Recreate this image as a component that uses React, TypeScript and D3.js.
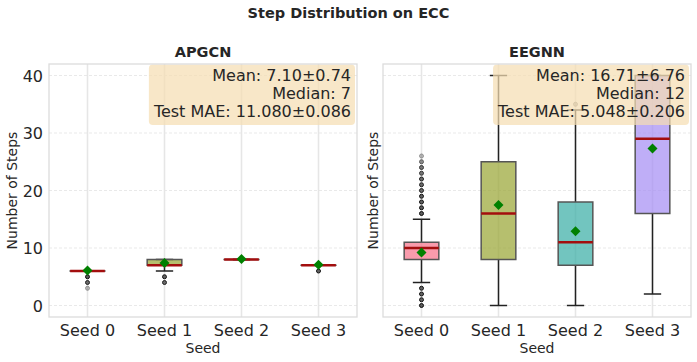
import React, { useEffect, useRef } from 'react';
import * as d3 from 'd3';

// categories
const seeds = ['Seed 0', 'Seed 1', 'Seed 2', 'Seed 3'];
const models = ['APGCN', 'EEGNN'];
const yTicks = [0, 10, 20, 30, 40];

// APGCN box stats per seed
const apgcnQ1 = [6, 7, 8, 7];
const apgcnMedian = [6, 7, 8, 7];
const apgcnQ3 = [6, 8, 8, 7];
const apgcnLow = [6, 6, 8, 7];
const apgcnHigh = [6, 8, 8, 7];
const apgcnMean = [6.1, 7.4, 8.07, 7.08];
// outliers as [value, count]
const apgcnOutliers = [
  [[5, 6], [4, 4], [3, 1]],
  [[5, 5], [4, 4]],
  [],
  [[6, 5]],
];
const apgcnNote = ['Mean: 7.10±0.74', 'Median: 7', 'Test MAE: 11.080±0.086'];

// EEGNN box stats per seed
const eegnnQ1 = [8, 8, 7, 16];
const eegnnMedian = [10, 16, 11, 29];
const eegnnQ3 = [11, 25, 18, 40];
const eegnnLow = [4, 0, 0, 2];
const eegnnHigh = [15, 40, 34, 40];
const eegnnMean = [9.2, 17.5, 12.9, 27.3];
const eegnnOutliers = [
  [[3, 5], [2, 5], [1, 5], [0, 6], [16, 6], [17, 6], [18, 5], [19, 5], [20, 4], [21, 4], [22, 4], [23, 3], [24, 3], [25, 2], [26, 1]],
  [],
  [[35, 1]],
  [],
];
const eegnnNote = ['Mean: 16.71±6.76', 'Median: 12', 'Test MAE: 5.048±0.206'];

const palette = ['#f77189', '#97a431', '#36ada4', '#a48cf4'];

const W = 697;
const H = 362;
const font = 'DejaVu Sans, sans-serif';
const ink = '#262626';

export default function App() {
  const svgRef = useRef<SVGSVGElement>(null);

  useEffect(() => {
    const svg = d3.select(svgRef.current);
    svg.selectAll('*').remove();

    const top = 64;
    const bottom = 317;
    const panelW = 308;
    const lefts = [49, 383];

    const y = d3.scaleLinear().domain([-2, 42]).range([bottom, top]);

    svg.append('rect').attr('width', W).attr('height', H).attr('fill', 'white');

    svg.append('text')
      .attr('x', 348.5).attr('y', 17.5)
      .attr('text-anchor', 'middle')
      .attr('font-family', font).attr('font-size', 14.5).attr('font-weight', 'bold')
      .attr('fill', ink)
      .text('Step Distribution on ECC');

    const panels = [
      { q1: apgcnQ1, med: apgcnMedian, q3: apgcnQ3, lo: apgcnLow, hi: apgcnHigh, mean: apgcnMean, out: apgcnOutliers, note: apgcnNote },
      { q1: eegnnQ1, med: eegnnMedian, q3: eegnnQ3, lo: eegnnLow, hi: eegnnHigh, mean: eegnnMean, out: eegnnOutliers, note: eegnnNote },
    ];

    panels.forEach((p, pi) => {
      const left = lefts[pi];
      const right = left + panelW;
      const x = d3.scalePoint().domain(seeds).range([left, right]).padding(0.5);
      const bw = x.step() * 0.45;
      const g = svg.append('g');

      // grid
      g.selectAll('line.hgrid')
        .data(yTicks)
        .enter()
        .append('line')
        .attr('x1', left).attr('x2', right)
        .attr('y1', d => y(d)).attr('y2', d => y(d))
        .attr('stroke', '#e3e3e3').attr('stroke-width', 0.8)
        .attr('stroke-dasharray', '3,2');

      g.selectAll('line.vgrid')
        .data(seeds)
        .enter()
        .append('line')
        .attr('x1', d => x(d)!).attr('x2', d => x(d)!)
        .attr('y1', top).attr('y2', bottom)
        .attr('stroke', '#e6e6e6').attr('stroke-width', 1.6);

      seeds.forEach((s, i) => {
        const cx = x(s)!;
        // whiskers
        g.append('line')
          .attr('x1', cx).attr('x2', cx)
          .attr('y1', y(p.lo[i])).attr('y2', y(p.q1[i]))
          .attr('stroke', '#222').attr('stroke-width', 1.5);
        g.append('line')
          .attr('x1', cx).attr('x2', cx)
          .attr('y1', y(p.q3[i])).attr('y2', y(p.hi[i]))
          .attr('stroke', '#222').attr('stroke-width', 1.5);
        [p.lo[i], p.hi[i]].forEach(v => {
          g.append('line')
            .attr('x1', cx - bw / 4).attr('x2', cx + bw / 4)
            .attr('y1', y(v)).attr('y2', y(v))
            .attr('stroke', '#222').attr('stroke-width', 1.5);
        });
        // box
        g.append('rect')
          .attr('x', cx - bw / 2)
          .attr('y', y(p.q3[i]))
          .attr('width', bw)
          .attr('height', Math.max(0.01, y(p.q1[i]) - y(p.q3[i])))
          .attr('fill', palette[i]).attr('fill-opacity', 0.7)
          .attr('stroke', '#555').attr('stroke-width', 1.5);
        // median
        g.append('line')
          .attr('x1', cx - bw / 2).attr('x2', cx + bw / 2)
          .attr('y1', y(p.med[i])).attr('y2', y(p.med[i]))
          .attr('stroke', '#a30e0e').attr('stroke-width', 2.5);
        // outliers
        p.out[i].forEach(([v, n]) => {
          g.append('circle')
            .attr('cx', cx).attr('cy', y(v)).attr('r', 2)
            .attr('fill', '#555').attr('stroke', '#000').attr('stroke-width', 1)
            .attr('opacity', 1 - Math.pow(0.6, n));
        });
        // mean
        const my = y(p.mean[i]);
        g.append('path')
          .attr('d', `M${cx},${my - 5}L${cx + 5},${my}L${cx},${my + 5}L${cx - 5},${my}Z`)
          .attr('fill', '#008000');
      });

      // annotation
      const textRight = right - 6;
      const baselines = [80.7, 99, 117.3];
      const texts = p.note.map((t, k) =>
        svg.append('text')
          .attr('x', textRight).attr('y', baselines[k])
          .attr('text-anchor', 'end')
          .attr('font-family', font).attr('font-size', 16)
          .attr('fill', ink)
          .text(t));
      const minX = d3.min(texts, t => (t.node() as SVGTextElement).getBBox().x)!;
      svg.insert('rect', () => texts[0].node())
        .attr('x', minX - 4).attr('y', top + 0.5)
        .attr('width', right - 2 - (minX - 4)).attr('height', 125 - top - 0.5)
        .attr('rx', 4)
        .attr('fill', '#f5deb3').attr('fill-opacity', 0.72);

      // frame
      svg.append('rect')
        .attr('x', left).attr('y', top)
        .attr('width', panelW).attr('height', bottom - top)
        .attr('fill', 'none').attr('stroke', '#dcdcdc').attr('stroke-width', 1.3);

      // panel title
      svg.append('text')
        .attr('x', left + panelW / 2).attr('y', 57)
        .attr('text-anchor', 'middle')
        .attr('font-family', font).attr('font-size', 14.5).attr('font-weight', 'bold')
        .attr('fill', ink)
        .text(models[pi]);

      // x tick labels
      svg.selectAll(null)
        .data(seeds)
        .enter()
        .append('text')
        .attr('x', d => x(d)!).attr('y', 335.5)
        .attr('text-anchor', 'middle')
        .attr('font-family', font).attr('font-size', 16)
        .attr('fill', ink)
        .text(d => d);

      svg.append('text')
        .attr('x', left + panelW / 2).attr('y', 353)
        .attr('text-anchor', 'middle')
        .attr('font-family', font).attr('font-size', 14)
        .attr('fill', ink)
        .text('Seed');

      // y label
      const ylx = pi === 0 ? 16.5 : 377.5;
      svg.append('text')
        .attr('transform', `translate(${ylx},${(top + bottom) / 2}) rotate(-90)`)
        .attr('text-anchor', 'middle')
        .attr('font-family', font).attr('font-size', 14)
        .attr('fill', ink)
        .text('Number of Steps');

      // y tick labels (shared axis, left panel only)
      if (pi === 0) {
        svg.selectAll(null)
          .data(yTicks)
          .enter()
          .append('text')
          .attr('x', left - 6).attr('y', d => y(d) + 6)
          .attr('text-anchor', 'end')
          .attr('font-family', font).attr('font-size', 16)
          .attr('fill', ink)
          .text(d => d);
      }
    });
  }, []);

  return (
    <svg
      ref={svgRef}
      width={W}
      height={H}
      style={{ position: 'absolute', left: 0, top: 0 }}
    />
  );
}
